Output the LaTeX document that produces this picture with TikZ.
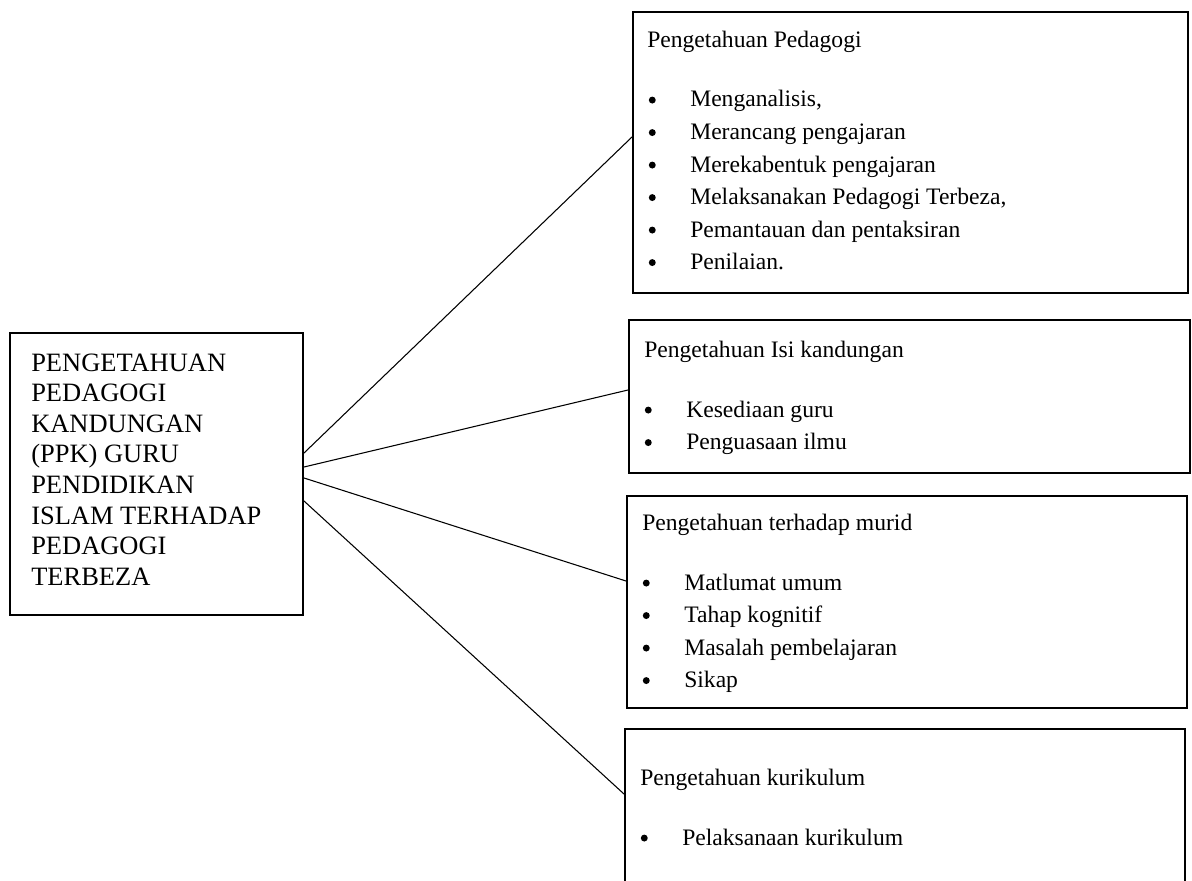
\documentclass[tikz,border=0pt]{standalone}
\usepackage{fontspec}
\setmainfont{Liberation Serif}
\usetikzlibrary{positioning,calc}

% titik besar di depan setiap butir
\newcommand{\titik}{\makebox[31.5pt][l]{\hspace{0.4pt}\raisebox{2.6pt}{\tikz\fill (0,0) circle (2.6pt);}}}

\begin{document}
\begin{tikzpicture}[
  x=0.75pt, y=-0.75pt,
  kotak/.style={draw, line width=1.5pt, inner sep=0pt},
  judul/.style={anchor=base west, inner sep=0pt, font=\fontsize{17.7}{24}\selectfont},
  butir/.style={anchor=base west, inner sep=0pt, font=\fontsize{17.7}{24}\selectfont},
  utamateks/.style={anchor=base west, inner sep=0pt, font=\fontsize{19.85}{23}\selectfont},
  garis/.style={line width=0.8pt}
]
\useasboundingbox (0,0) rectangle (1192,881);

% kotak utama
\node[kotak, minimum width=219.75pt, minimum height=211.5pt] (utama) at (156.5,474) {};
\foreach \t [count=\i from 0] in {PENGETAHUAN, PEDAGOGI, KANDUNGAN, (PPK) GURU, PENDIDIKAN, ISLAM TERHADAP, PEDAGOGI, TERBEZA}
  \node[utamateks] (utama-\i) at ($(utama.north west)+(22,39+30.6*\i)$) {\t};

% kotak kanan
\node[kotak, minimum width=416.25pt, minimum height=210.75pt] (b1) at (910.5,152.5) {};
\node[judul] (b1-judul) at ($(b1.north west)+(15,37)$) {Pengetahuan Pedagogi};
\foreach \t [count=\i from 0] in {{Menganalisis,}, Merancang pengajaran, Merekabentuk pengajaran, {Melaksanakan Pedagogi Terbeza,}, Pemantauan dan pentaksiran, Penilaian.}
  \node[butir] (b1-\i) at ($(b1.north west)+(16,96+32.5*\i)$) {\titik\t};

\node[kotak, minimum width=420.75pt, minimum height=114.75pt] (b2) at (909.5,396.5) {};
\node[judul] (b2-judul) at ($(b2.north west)+(16,38)$) {Pengetahuan Isi kandungan};
\foreach \t [count=\i from 0] in {Kesediaan guru, Penguasaan ilmu}
  \node[butir] (b2-\i) at ($(b2.north west)+(16,98+32.5*\i)$) {\titik\t};

\node[kotak, minimum width=420pt, minimum height=159pt] (b3) at (907,602) {};
\node[judul] (b3-judul) at ($(b3.north west)+(16,35)$) {Pengetahuan terhadap murid};
\foreach \t [count=\i from 0] in {Matlumat umum, Tahap kognitif, Masalah pembelajaran, Sikap}
  \node[butir] (b3-\i) at ($(b3.north west)+(16,95+32.5*\i)$) {\titik\t};

% kotak bawah terpotong di tepi halaman
\node[kotak, minimum width=420pt, minimum height=150.75pt] (b4) at (905,829.5) {};
\node[judul] (b4-judul) at ($(b4.north west)+(16,57)$) {Pengetahuan kurikulum};
\node[butir] (b4-0) at ($(b4.north west)+(16,117)$) {\titik Pelaksanaan kurikulum};

% garis penghubung
\draw[garis] ($(utama.north east)+(0,121)$) -- ($(b1.north west)+(0,126)$);
\draw[garis] ($(utama.north east)+(0,135)$) -- ($(b2.north west)+(0,71)$);
\draw[garis] ($(utama.north east)+(0,146)$) -- ($(b3.north west)+(0,86)$);
\draw[garis] ($(utama.north east)+(0,169)$) -- ($(b4.north west)+(0,66)$);
\end{tikzpicture}
\end{document}
